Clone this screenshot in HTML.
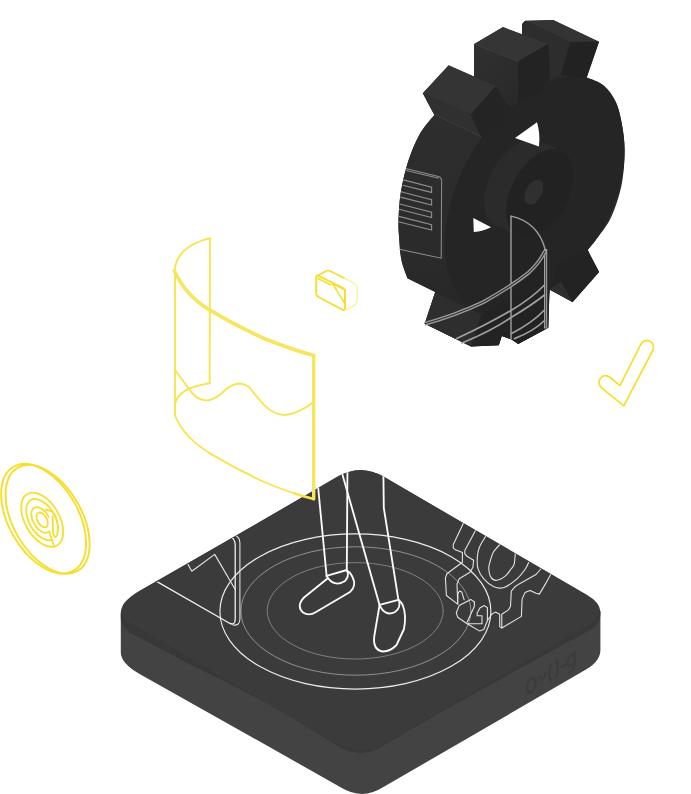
<!DOCTYPE html>
<html><head><meta charset="utf-8"><title>Illustration</title>
<style>
html,body{margin:0;padding:0;background:#fff;font-family:"Liberation Sans",sans-serif;}
svg{display:block}
</style></head><body>
<svg width="691" height="794" viewBox="0 0 691 794">
<g id="platform">
<path d="M120.8,613 L120.8,652.2 Q120.8,663.3 139.6,673.9 L341,787.4 Q362.3,800.4 383,787.3 L586,669.6 Q600.4,661.2 600.4,650 L600.4,611 L360,560 Z" fill="#434343"/>
<path d="M340.6,475.5 Q361.1,463.8 383.2,476.5 L586.3,594.4 Q600.4,602.6 600.4,612 L600.4,615 Q600.4,624 590,630 L440,712.5 L385,744.5 Q360,761.5 335,744 L278,709 L230,684.1 L190,664.6 L143.9,640 L135,635.5 Q120.8,628.5 120.8,618 L120.8,613.5 Q120.8,601.5 139.6,590.7 Z" fill="#383838"/>
<rect x="-147.5" y="-147.5" width="295.0" height="295.0" rx="26" ry="26" fill="#3b3b3b"  transform="matrix(0.854,0.5,-0.854,0.5,360.5,610.5)"/>
<g fill="none" stroke="#3c3c3c" stroke-width="2.8" stroke-linecap="round" transform="matrix(0.866,-0.5,0,1,526,692.5)"><ellipse cx="6" cy="-4" rx="5" ry="7"/><path d="M16,-8 q3,8 7,0"/><path d="M29,-14 q-4,8 0,16 M35,-14 q4,8 0,16"/><path d="M41,-5 h4"/><path d="M56,-9 a4.5,5 0 1 0 0,6 M56,-12 v12 q0,6 -7,5"/></g>
</g>
<defs><clipPath id="topclip"><rect x="-147.5" y="-147.5" width="295.0" height="295.0" rx="26" ry="26" fill="#000"  transform="matrix(0.854,0.5,-0.854,0.5,360.5,610.5)"/></clipPath></defs>
<g id="plat-lines" fill="none" stroke-linecap="round" stroke-linejoin="round" clip-path="url(#topclip)">
<ellipse cx="355.4" cy="611.5" rx="135.5" ry="77.6" stroke="#ececec" stroke-width="1.15"/>
<ellipse cx="355.9" cy="611" rx="115" ry="64.2" stroke="#919191" stroke-width="1"/>
<ellipse cx="355.2" cy="610.8" rx="88" ry="48.2" stroke="#808080" stroke-width="1"/>
<path d="M150,577.6 L229.5,623.2 Q235.2,626 235.2,619 L235.2,545 Q235.2,539 230,536" stroke="#f2f2f2" stroke-width="1.3"/>
<path d="M233,625 Q239.9,626 239.9,619 L239.9,543 Q239.9,537 234,534.5" stroke="#e0e0e0" stroke-width="1.1"/>
<path d="M186.9,562.5 L191.8,571.2 L214.7,554.4 L235.2,589.5" stroke="#e8e8e8" stroke-width="1.1"/>
<path d="M317.8,483.9 L326.6,575.9" stroke="#fbfbfb" stroke-width="1.85"/>
<path d="M347.5,460 L346.8,570.8" stroke="#fbfbfb" stroke-width="1.85"/>
<path d="M326.6,575.9 L346.8,570" stroke="#fbfbfb" stroke-width="1.85"/>
<path d="M326.6,575.9 Q334,588 345,581 Q349,577 347.5,571" stroke="#fbfbfb" stroke-width="1.85"/>
<path d="M327.5,578.5 L304,597.5 Q296,606 303,612.5 Q309,616.5 316,612 L350,592 Q357,586 352.5,577 Q350,571.5 346.8,570.8" stroke="#fbfbfb" stroke-width="1.85"/>
<path d="M340,466 L379.5,604.8" stroke="#fbfbfb" stroke-width="1.85"/>
<path d="M383.3,466 L383.8,507.9 L398.4,599.8" stroke="#fbfbfb" stroke-width="1.85"/>
<path d="M379.5,604.8 L398.4,599.8" stroke="#fbfbfb" stroke-width="1.85"/>
<path d="M379.5,604.8 Q385,617 395,612 Q401,608 399,600.5" stroke="#fbfbfb" stroke-width="1.85"/>
<path d="M379.5,605.5 L374.3,636 Q372.5,650 383,651.5 Q391,651 396.5,645 L404,629 Q406.8,615 402.5,604.5 Q400.5,601 398.4,599.8" stroke="#fbfbfb" stroke-width="1.85"/>
<path d="M463.4,523.2 L453.3,544.4 L453.2,547.8 L455.5,549.8 L462.4,552.5 L462.4,562.2 L446.9,573.7 L445.4,578.1 L446.4,595.5 L457.7,604.1" stroke="#e4e4e4" stroke-width="1.1"/>
<path d="M475.6,530.3 L464.8,550.5 L464.8,553.6 L467,556.3 L473.6,560.3 L472.9,567.2 L470.0,572.3 L459.2,578.8 L457.0,583.9 L457.7,603.4" stroke="#e4e4e4" stroke-width="1.1"/>
<path d="M457.7,604.1 L458.0,593.3 L459.6,591.1 L461.8,592.1 L464.2,599.8" stroke="#e4e4e4" stroke-width="1.1"/>
<path d="M474.4,602.0 L470.7,599.4 L459.2,605.6 L456.3,612.8 L457.7,617.2 L467.1,623.7 L479.4,630.9 L483.8,629.5 L487.4,620.8 L487.4,607.8 L484.5,605.6 L480.1,607.8 L477.2,612.8 L477.2,615.7 L482.0,615.7 L482.0,623.7 L467.1,623.7" stroke="#e4e4e4" stroke-width="1.1"/>
<path d="M474.4,602.0 L474.4,606.3 L467.1,622.2" stroke="#e4e4e4" stroke-width="1.1"/>
<path d="M487.4,620.8 L491.7,614.3 L495.3,612.1 L499.7,614.3 L499.7,626.6 L501.8,628.0 L521.4,616.4 L522.1,599.1 L525.0,592.6 L530.1,590.4 L536.0,593.3 L539.4,594.1 L545.5,583.9 L551.6,572.8" stroke="#e4e4e4" stroke-width="1.1"/>
<path d="M501.8,615.0 L501.8,628.0" stroke="#e4e4e4" stroke-width="1.1"/>
<path d="M542,567.5 L536.0,574.5 L519.2,583.9 L514.9,586.8 L511.3,591.1 L510.5,606.3 L508.4,609.9 L501.8,614.3" stroke="#e4e4e4" stroke-width="1.1"/>
<path d="M485.7,536.3 C484.7,538.1 480.9,543.6 479.5,547.0 C478.1,550.4 477.6,553.0 477.4,556.6 C477.1,560.2 476.9,565.0 478.0,568.7 C479.1,572.4 481.2,575.8 483.8,578.8 C486.4,581.8 490.5,585.3 493.9,586.8 C497.3,588.2 500.1,588.8 504.0,587.5 C507.9,586.2 513.5,581.8 517.0,578.8 C520.5,575.8 523.1,572.2 525.0,569.5 C526.9,566.8 528.0,563.7 528.6,562.5" stroke="#e4e4e4" stroke-width="1.1"/>
<path d="M500.9,543.4 C499.7,544.8 495.4,548.8 493.5,552.0 C491.6,555.2 490.6,559.9 489.8,562.7 C489.0,565.5 488.6,566.2 488.8,568.7 C489.0,571.2 489.7,575.5 491.0,577.4 C492.3,579.3 494.4,580.5 496.8,580.3 C499.2,580.0 503.1,577.8 505.5,575.9 C507.9,574.0 509.6,570.9 511.0,569.0 C512.4,567.1 513.4,566.9 514.1,564.3 C514.8,561.7 515.1,555.4 515.3,553.6" stroke="#e4e4e4" stroke-width="1.1"/>
</g>
<g id="yellow" fill="none" stroke="#f6de2b" stroke-width="1.7" stroke-linecap="round" stroke-linejoin="round">
<g stroke="#f8e450" stroke-width="1.9">
<path d="M210,238.2 Q176,247 174.6,271"/>
<path d="M210,238.2 L209.6,383.3"/>
<path d="M175,270.8 L175,415.5"/>
<path d="M174.3,270.8 Q186,296 209.5,309.9 Q236,326 264.2,338.5 Q290,349 313.7,355.5" stroke-width="3.6" stroke="#f6e55e"/>
<path d="M313.7,355.5 L313.7,498.9" stroke-width="3.4" stroke="#f6e55e"/>
<path d="M209.6,383.3 Q178,388 175.1,404"/>
<path d="M175,415.5 Q184,438 212.1,454.6 Q238,470 264.2,482 Q290,493 313.7,498.9"/>
<path d="M175.1,370 Q183,381 191.3,392.1 Q198,400.5 206.9,400.4 Q214,400 222,393 Q231,384 238.1,383.8 Q246,383.6 250,388.2 Q256,396 264.2,405.1 Q274,415 285,415 Q298,414 313.7,402"/>
<path d="M294.4,493.4 Q304.2,496.5 313.7,498.9" stroke-width="2.6"/>
</g>
<g transform="translate(43.6,518.7) rotate(-30)" stroke-width="1.9"><ellipse cx="0" cy="0" rx="34.7" ry="60"/></g>
<g transform="translate(47.6,519.3) rotate(-30)" stroke-width="1.9"><ellipse cx="0" cy="0" rx="34.2" ry="59.6"/></g>
<g transform="matrix(0.866,0.5,0,1,42.2,519.7)" stroke-width="1.75"><circle vector-effect="non-scaling-stroke" cx="0" cy="0" r="24.25"/><path vector-effect="non-scaling-stroke" d="M11.5,14.4 A18.45,18.45 0 1 1 18.4,1"/><path vector-effect="non-scaling-stroke" d="M7.5,-6.5 A11.4,11.4 0 1 0 8,7.6 L13.5,19.5"/><circle vector-effect="non-scaling-stroke" cx="0" cy="0.2" r="6.6"/><path vector-effect="non-scaling-stroke" d="M3.8,-12.3 L12,-14.1 Q17.5,-10 18,-2 Q18,9 14.8,10 Q12.5,9.5 12.5,4.6 L12,-9.5"/></g>
<path d="M619.9,385.6 L640.4,345.1 Q643,340 648,340.6 Q655,342.5 653.2,349.5 L623.8,405.8 L601.6,387.9 Q597,383 600.5,378 Q604.5,373.5 610.3,377.5 Z"/>
<path d="M318.5,275.8 L343,288 Q345.1,289.2 345.1,292 L345.1,307.5 Q345.1,311 342,309.5 L318.5,297 Q316.2,295.5 316.2,293 L316.2,278 Q316.2,274.8 318.5,275.8 Z" stroke-width="1.9"/>
<path d="M317,276 L326,271 Q328,270 330,271 L344,278" stroke-width="1.6"/>
<path d="M318,278.5 L331,285" stroke-width="1.6"/>
<path d="M344,278 L354,283 Q357.5,285.5 357.3,290 L357.2,300 Q357,304 354,305.5 L346,310" stroke-width="1.5" stroke-opacity="0.4"/>
<path d="M332.4,283.4 L345.1,290 L345.1,304 Z" stroke-width="1.5"/>
</g>
<defs><clipPath id="gclip"><path d="M422.7,93.3 L448.6,65.3 L474.1,76.4 L474.1,44.0 L503.0,27.1 L522.0,34.3 L522.0,24.0 L525.0,20.8 L553.3,19.9 L599.1,41.7 L586.8,77.6 C589.7,78.9 599.4,81.7 604.2,85.7 C609.0,89.8 612.9,95.7 615.8,101.9 C618.7,108.1 620.1,114.7 621.6,122.7 C623.1,130.7 624.6,139.8 624.6,150.1 C624.6,160.4 623.9,173.6 621.6,184.8 C619.4,196.0 615.2,208.3 611.1,217.2 C607.0,226.1 601.1,232.6 597.2,238.1 C593.3,243.6 589.3,248.1 587.7,250.1 L599.2,272.1 L572.6,302.2 L549.5,289.5 L548.3,327.7 L518.2,343.9 L511.6,339.6 L501.8,336.1 L498.8,345.3 L471.0,346.5 L424.7,323.8 L435.2,292.1 L407.4,278.2 C406.4,275.3 403.0,267.2 401.6,260.8 C400.2,254.4 399.8,246.7 399.3,240.0 C398.8,233.3 398.2,228.3 398.5,220.4 C398.8,212.5 399.2,202.2 400.8,192.6 C402.4,182.9 404.7,172.2 407.8,162.5 C410.9,152.8 415.0,142.6 419.4,134.7 C423.8,126.8 431.9,118.3 434.4,115.0 Z"/></clipPath><linearGradient id="latg" x1="0" y1="0" x2="0" y2="1"><stop offset="0" stop-color="#2e2e2e"/><stop offset="0.6" stop-color="#2b2b2b"/><stop offset="1" stop-color="#242424"/></linearGradient><linearGradient id="t2g" x1="0" y1="0" x2="1" y2="1"><stop offset="0" stop-color="#303030"/><stop offset="1" stop-color="#292929"/></linearGradient></defs>
<g id="gear">
<path d="M422.7,93.3 L448.6,65.3 L474.1,76.4 L474.1,44.0 L503.0,27.1 L522.0,34.3 L522.0,24.0 L525.0,20.8 L553.3,19.9 L599.1,41.7 L586.8,77.6 C589.7,78.9 599.4,81.7 604.2,85.7 C609.0,89.8 612.9,95.7 615.8,101.9 C618.7,108.1 620.1,114.7 621.6,122.7 C623.1,130.7 624.6,139.8 624.6,150.1 C624.6,160.4 623.9,173.6 621.6,184.8 C619.4,196.0 615.2,208.3 611.1,217.2 C607.0,226.1 601.1,232.6 597.2,238.1 C593.3,243.6 589.3,248.1 587.7,250.1 L599.2,272.1 L572.6,302.2 L549.5,289.5 L548.3,327.7 L518.2,343.9 L511.6,339.6 L501.8,336.1 L498.8,345.3 L471.0,346.5 L424.7,323.8 L435.2,292.1 L407.4,278.2 C406.4,275.3 403.0,267.2 401.6,260.8 C400.2,254.4 399.8,246.7 399.3,240.0 C398.8,233.3 398.2,228.3 398.5,220.4 C398.8,212.5 399.2,202.2 400.8,192.6 C402.4,182.9 404.7,172.2 407.8,162.5 C410.9,152.8 415.0,142.6 419.4,134.7 C423.8,126.8 431.9,118.3 434.4,115.0 Z" fill="#2b2b2b"/>
<g clip-path="url(#gclip)">
<rect x="390" y="100" width="165" height="250" fill="url(#latg)"/>
<path d="M596.2,81.5 L600.7,84.3 L604.9,87.6 L608.8,91.5 L612.3,95.9 L615.4,100.7 L618.1,106.0 L620.4,111.7 L622.3,117.8 L623.8,124.4 L624.9,131.2 L625.5,138.4 L625.7,145.8 L625.4,153.5 L624.7,161.4 L623.5,169.4 L621.9,177.6 L619.9,185.8 L617.5,194.1 L614.7,202.4 L611.5,210.7 L607.9,218.9 L604.0,226.9 L599.7,234.9 L595.2,242.6 L590.3,250.1 L585.1,257.3 L579.7,264.2 L574.1,270.8 L568.3,277.0 L562.4,282.8 L556.3,288.2 L550.1,293.1 L543.8,297.5 L537.5,301.5 L531.2,304.9 L524.9,307.8 L518.7,310.1 L512.5,311.9 L506.4,313.1 L500.5,313.8 L494.8,313.8 L489.2,313.3 L483.9,312.2 L478.8,310.5 L474.0,308.3 L469.5,305.5 L465.3,302.2 L461.4,298.3 L457.9,293.9 L454.8,289.1 L452.1,283.8 L449.8,278.1 L447.9,272.0 L446.4,265.4 L445.3,258.6 L444.7,251.4 L444.5,244.0 L444.8,236.3 L445.5,228.4 L446.7,220.4 L448.3,212.2 L450.3,204.0 L452.7,195.7 L455.5,187.4 L458.7,179.1 L462.3,170.9 L466.2,162.9 L470.5,154.9 L475.0,147.2 L479.9,139.7 L485.1,132.5 L490.5,125.6 L496.1,119.0 L501.9,112.8 L507.8,107.0 L513.9,101.6 L520.1,96.7 L526.4,92.3 L532.7,88.3 L539.0,84.9 L545.3,82.0 L551.5,79.7 L557.7,77.9 L563.8,76.7 L569.7,76.0 L575.4,76.0 L581.0,76.5 L586.3,77.6 L591.4,79.3 L596.2,81.5Z" fill="#252525"/>
<path d="M422.7,93.3 L448.6,65.3 L496.1,86.1 L470.6,114.6Z" fill="#343434"/>
<path d="M422.7,93.3 L470.6,114.6 L481.0,136.6 L434.7,114.6Z" fill="#303030"/>
<path d="M470.6,114.6 L496.1,86.1 L501.9,97.2 L511.1,107.0 L500.0,125.0 L481.0,136.6Z" fill="#242424"/>
<path d="M474.1,44.0 L503.0,27.1 L548.2,44.0 L518.1,61.4Z" fill="#353535"/>
<path d="M474.1,44.0 L518.1,61.4 L518.1,101.9 L511.1,107.0 L496.1,86.1 L474.1,76.4Z" fill="url(#t2g)"/>
<path d="M518.1,61.4 L548.2,44.0 L549.8,78.7 L535.0,95.0 L518.1,101.9Z" fill="#232323"/>
<path d="M525.0,20.8 L553.3,19.9 L599.1,41.7 L570.6,42.1Z" fill="#343434"/>
<path d="M522.0,24.0 L525.0,20.8 L570.6,42.1 L560.7,75.2 L549.8,78.7 L548.6,44.0 L522.0,34.3Z" fill="#2d2d2d"/>
<path d="M570.6,42.1 L599.1,41.7 L586.8,77.6 L560.7,75.2Z" fill="#222"/>
<path d="M587.7,250.1 L599.2,272.1 L572.6,302.2 L549.5,289.5 L560.0,262.0Z" fill="#232323"/>
<path d="M549.5,289.5 L561.0,281.5 L572.6,302.2Z" fill="#2f2f2f"/>
<path d="M435.2,292.1 L424.7,323.8 L471.0,346.5 L481.5,314.8Z" fill="#2e2e2e"/>
<path d="M481.5,314.8 L471.0,346.5 L498.8,345.3 L501.8,336.1 L511.6,339.6 L518.2,343.9 L548.3,327.7 L549.5,289.5 L520.0,296.0 L495.0,306.0Z" fill="#232323"/>
<path d="M484.1,200.2 L484.3,196.5 L484.8,192.8 L485.6,189.1 L486.6,185.2 L487.8,181.4 L489.2,177.6 L490.9,173.8 L492.8,170.1 L494.9,166.5 L497.1,163.0 L499.5,159.7 L502.0,156.5 L504.7,153.6 L507.4,150.9 L510.2,148.4 L513.1,146.2 L516.0,144.3 L519.0,142.7 L521.9,141.4 L524.8,140.4 L527.6,139.8 L530.3,139.4 L533.0,139.4 L535.5,139.8 L537.9,140.4 L560.0,150.1 L562.2,151.1 L564.3,152.4 L566.2,154.0 L567.8,155.9 L569.3,158.1 L570.5,160.6 L571.5,163.3 L572.3,166.3 L572.8,169.4 L573.1,172.8 L573.1,176.2 L572.8,179.9 L572.3,183.6 L571.6,187.3 L570.6,191.2 L569.3,195.0 L567.9,198.8 L566.2,202.6 L564.3,206.3 L562.2,209.9 L560.0,213.4 L557.6,216.7 L555.1,219.9 L552.4,222.8 L549.7,225.5 L546.9,228.0 L544.0,230.2 L541.1,232.1 L538.2,233.7 L535.2,235.0 L532.4,236.0 L529.5,236.7 L526.8,237.0 L524.1,237.0 L521.6,236.6 L519.2,235.9 L497.1,226.3 L494.9,225.3 L492.8,224.0 L490.9,222.4 L489.3,220.5 L487.8,218.3 L486.6,215.8 L485.6,213.1 L484.8,210.1 L484.3,207.0 L484.1,203.6Z" fill="#2b2b2b"/>
<path d="M562.2,151.1 L564.3,152.4 L566.2,154.0 L567.8,155.9 L569.3,158.1 L570.5,160.6 L571.5,163.3 L572.3,166.3 L572.8,169.4 L573.1,172.8 L573.1,176.2 L572.8,179.9 L572.3,183.6 L571.6,187.4 L570.6,191.2 L569.3,195.0 L567.9,198.8 L566.2,202.6 L564.3,206.3 L562.3,209.9 L560.0,213.4 L557.6,216.7 L555.1,219.9 L552.4,222.8 L549.7,225.5 L546.9,228.0 L544.0,230.2 L541.1,232.1 L538.2,233.7 L535.3,235.0 L532.4,236.0 L529.5,236.6 L526.8,237.0 L524.2,237.0 L521.6,236.6 L519.2,235.9 L517.0,234.9 L514.9,233.6 L513.0,232.0 L511.4,230.1 L509.9,227.9 L508.7,225.4 L507.7,222.7 L506.9,219.7 L506.4,216.6 L506.1,213.2 L506.1,209.8 L506.4,206.1 L506.9,202.4 L507.6,198.6 L508.6,194.8 L509.9,191.0 L511.3,187.2 L513.0,183.4 L514.9,179.7 L516.9,176.1 L519.2,172.6 L521.6,169.3 L524.1,166.1 L526.8,163.2 L529.5,160.5 L532.3,158.0 L535.2,155.8 L538.1,153.9 L541.0,152.3 L543.9,151.0 L546.8,150.0 L549.7,149.4 L552.4,149.0 L555.0,149.0 L557.6,149.4 L560.0,150.1 L562.2,151.1Z" fill="#222"/>
<path d="M540.3,180.3 L541.6,181.3 L542.6,182.9 L543.2,184.8 L543.4,187.0 L543.2,189.5 L542.6,192.1 L541.5,194.7 L540.2,197.2 L538.6,199.5 L536.8,201.4 L534.8,203.0 L532.8,204.1 L530.9,204.6 L529.1,204.6 L527.5,204.1 L526.2,203.1 L525.2,201.5 L524.6,199.6 L524.4,197.4 L524.6,194.9 L525.2,192.3 L526.3,189.7 L527.6,187.2 L529.2,184.9 L531.0,183.0 L533.0,181.4 L535.0,180.3 L536.9,179.8 L538.7,179.8 L540.3,180.3Z" fill="#303030"/>
<path d="M515,138.1 L537,122.3 Q540.5,134 538.9,146.6 Z" fill="#fff"/>
<path d="M473.3,218.1 L491.1,227.3 Q483,231.5 473.8,232 Z" fill="#fff"/>
<path d="M511,216.1 Q538,222 545,249.7 L545,330 L518.2,344 L511,340 Z" fill="#222" fill-opacity="0.55"/>
</g>
<path d="M434.7,114.6 L481,136.6 M474.1,44 L518.1,61.4" fill="none" stroke="#6a6a6a" stroke-width="0.5" stroke-dasharray="1 1.3"/>
<path d="M405.9,168.6 L438.5,176.4 Q441.6,177.4 441.6,180.5 L441.2,258.2 L399.3,249.2" fill="none" stroke="#8c8c8c" stroke-width="1.05"/>
<path d="M405.3,170.3 L438.8,178.3" fill="none" stroke="#8c8c8c" stroke-width="1.05"/>
<path d="M403.4,179.9 L431.6,187.1 L431.6,192.4 L402.79999999999995,185.2" fill="none" stroke="#8e8e8e" stroke-width="1.15"/>
<path d="M401.0,191.8 L431.6,199.7 L431.6,205.0 L400.4,197.1" fill="none" stroke="#8e8e8e" stroke-width="1.15"/>
<path d="M399.6,204.0 L431.6,212.2 L431.6,217.5 L399.0,209.3" fill="none" stroke="#8e8e8e" stroke-width="1.15"/>
<path d="M399.0,216.4 L431.6,224.8 L431.6,230.1 L398.4,221.7" fill="none" stroke="#8e8e8e" stroke-width="1.15"/>
<path d="M511,216.1 L511,339.6" fill="none" stroke="#a0a0a0" stroke-width="1.4" stroke-linecap="round"/>
<path d="M511,216.1 Q538,222 545.3,249.7" fill="none" stroke="#a0a0a0" stroke-width="1.4" stroke-linecap="round"/>
<path d="M545.6,249 L545.6,328.5" fill="none" stroke="#a0a0a0" stroke-width="3.2"/>
<path d="M545.6,252 L545.6,327.5" fill="none" stroke="#2c2c2c" stroke-width="0.8"/>
<path d="M424.7,323.8 Q455,315.5 482.6,302.5 Q512,286 528.9,272.4 Q540,262 545,251" fill="none" stroke="#9c9c9c" stroke-width="3.8"/>
<path d="M424.7,323.8 Q455,315.5 482.6,302.5 Q512,286 528.9,272.4 Q540,262 545,251" fill="none" stroke="#303030" stroke-width="1.1"/>
<path d="M456.7,338.6 Q488,324 511,310.5 Q532,298 544.5,285" fill="none" stroke="#a0a0a0" stroke-width="1.7" stroke-linecap="round"/>
<path d="M462,343 Q492,330.5 511,317.5 Q532,305 544.5,295" fill="none" stroke="#a0a0a0" stroke-width="1.7" stroke-linecap="round"/>
<path d="M511.6,333.5 Q532,323 544.5,310" fill="none" stroke="#a0a0a0" stroke-width="1.7" stroke-linecap="round"/>
<path d="M514.5,338.6 Q534,331 544.5,320.5" fill="none" stroke="#a0a0a0" stroke-width="1.7" stroke-linecap="round"/>
</g>
</svg>
</body></html>
